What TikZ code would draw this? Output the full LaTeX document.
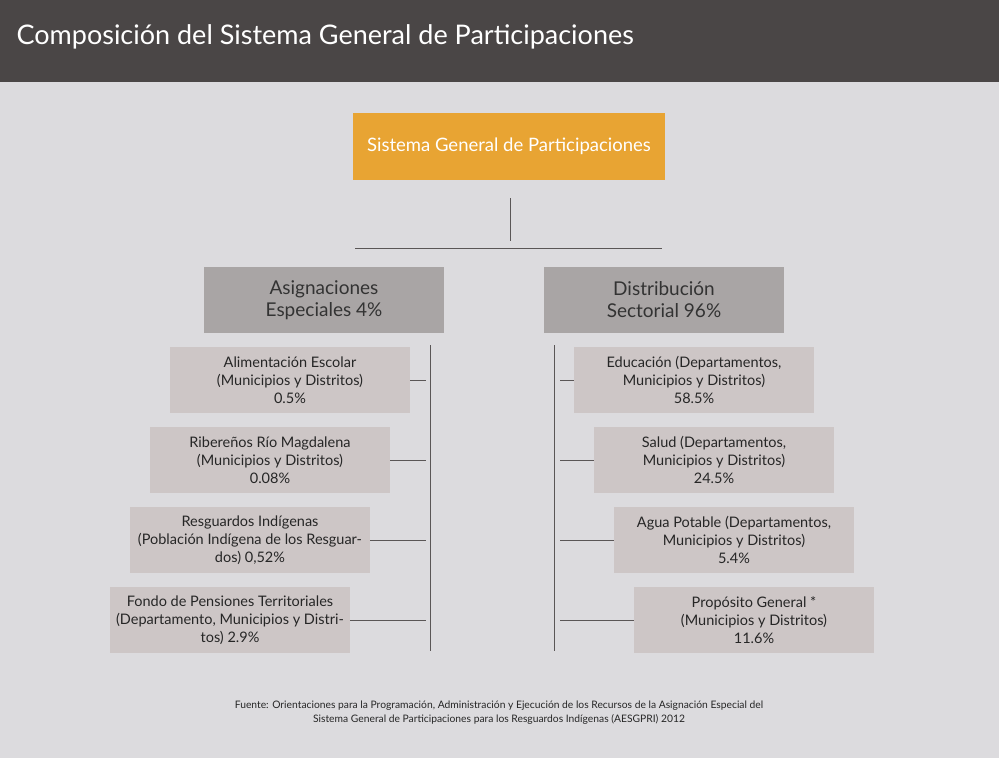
\documentclass[tikz,border=0pt]{standalone}
\usepackage{fontspec}
\setmainfont{Lato}
\usetikzlibrary{positioning}
\definecolor{barbg}{HTML}{4A4646}
\definecolor{pagebg}{HTML}{DCDBDE}
\definecolor{sgpor}{HTML}{E8A433}
\definecolor{headgr}{HTML}{A9A5A5}
\definecolor{subgr}{HTML}{CDC6C6}
\definecolor{linegr}{HTML}{5A5656}
\tikzset{
  head/.style={fill=headgr, minimum width=240pt, minimum height=66pt, align=center, font=\fontsize{19}{22}\selectfont, text=black!80},
  sub/.style={fill=subgr, minimum width=240pt, minimum height=66pt, align=center, font=\fontsize{14.5}{18}\selectfont, text=black!85},
  conn/.style={draw=linegr, line width=0.8pt}
}
\begin{document}
\begin{tikzpicture}[x=1pt,y=-1pt]
\fill[pagebg] (0,0) rectangle (999,758);
\fill[barbg] (0,0) rectangle (999,82);
\node[anchor=west, text=white, font=\fontsize{27}{30}\selectfont] (title) at (13,37) {Composición del Sistema General de Participaciones};

\node[fill=sgpor, minimum width=312pt, minimum height=67pt, text=white, font=\fontsize{18.5}{22}\selectfont] (sgp) at (509,146.5) {Sistema General de Participaciones};

\coordinate (stemtop) at (510,198);
\coordinate (stembot) at (510,241);
\coordinate (barl) at (355,248);
\coordinate (barr) at (662,248);
\draw[conn] (stemtop) -- (stembot);
\draw[conn] (barl) -- (barr);

\node[head] (asig) at (324,300) {Asignaciones\\Especiales 4\%};
\node[head] (dist) at (664,300) {Distribución\\Sectorial 96\%};

% left column
\coordinate (ltop) at (430,345);
\coordinate (lbot) at (430,651);
\draw[conn] (ltop) -- (lbot);
\node[sub] (alim) at (290,380) {Alimentación Escolar\\(Municipios y Distritos)\\0.5\%};
\node[sub] (ribe) at (270,460) {Ribereños Río Magdalena\\(Municipios y Distritos)\\0.08\%};
\node[sub] (resg) at (250,540) {Resguardos Indígenas\\(Población Indígena de los Resguar-\\dos) 0,52\%};
\node[sub] (fond) at (230,620) {Fondo de Pensiones Territoriales\\(Departamento, Municipios y Distri-\\tos) 2.9\%};
\foreach \n in {alim,ribe,resg,fond}
  \draw[conn] (\n.east) -- (\n.east -| 426,0);

% right column
\coordinate (rtop) at (554,345);
\coordinate (rbot) at (554,651);
\draw[conn] (rtop) -- (rbot);
\node[sub] (educ) at (694,380) {Educación (Departamentos,\\Municipios y Distritos)\\58.5\%};
\node[sub] (salu) at (714,460) {Salud (Departamentos,\\Municipios y Distritos)\\24.5\%};
\node[sub] (agua) at (734,540) {Agua Potable (Departamentos,\\Municipios y Distritos)\\5.4\%};
\node[sub] (prop) at (754,620) {Propósito General *\\(Municipios y Distritos)\\11.6\%};
\foreach \n in {educ,salu,agua,prop}
  \draw[conn] (\n.west) -- (\n.west -| 560,0);

\node[align=center, font=\fontsize{10.3}{14}\selectfont, text=black!85] (fuente) at (499,713) {Fuente: Orientaciones para la Programación, Administración y Ejecución de los Recursos de la Asignación Especial del\\Sistema General de Participaciones para los Resguardos Indígenas (AESGPRI) 2012};
\end{tikzpicture}
\end{document}
